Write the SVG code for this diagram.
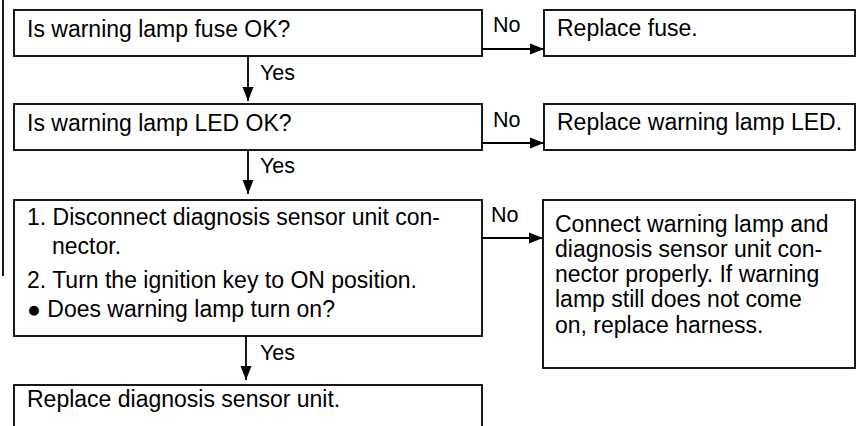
<svg xmlns="http://www.w3.org/2000/svg" width="857" height="426" viewBox="0 0 857 426">
<style>
.box{fill:#fff;stroke:#000;stroke-width:1.8}
.t{font-family:"Liberation Sans",Arial,sans-serif;font-size:23px;fill:#000}
.lbl{font-family:"Liberation Sans",Arial,sans-serif;font-size:21.5px;fill:#000}
.c{stroke:#000;stroke-width:1.8;fill:none}
</style>
<defs>
<marker id="ah" markerWidth="14" markerHeight="12" refX="14" refY="6" orient="auto" markerUnits="userSpaceOnUse">
<path d="M0,0.5 L14,6 L0,11.5 Z" fill="#000"/>
</marker>
</defs>
<rect width="857" height="426" fill="#fff"/>
<line x1="3" y1="0" x2="3" y2="276" stroke="#000" stroke-width="1.8"/>
<g id="n1"><rect class="box" x="14" y="10" width="468" height="46"/><text class="t" x="27" y="37">Is warning lamp fuse OK?</text></g>
<g id="n2"><rect class="box" x="544" y="10" width="311" height="46"/><text class="t" x="557" y="36">Replace fuse.</text></g>
<g id="n3"><rect class="box" x="14" y="104" width="468" height="46"/><text class="t" x="27" y="131">Is warning lamp LED OK?</text></g>
<g id="n4"><rect class="box" x="544" y="104" width="311" height="46"/><text class="t" x="557" y="130">Replace warning lamp LED.</text></g>
<g id="n5"><rect class="box" x="14" y="200" width="468" height="136"/>
<text class="t" x="27" y="225">1. Disconnect diagnosis sensor unit con-</text>
<text class="t" x="52" y="254">nector.</text>
<text class="t" x="27" y="288">2. Turn the ignition key to ON position.</text>
<text class="t" x="27" y="317">● Does warning lamp turn on?</text></g>
<g id="n6"><rect class="box" x="543" y="200" width="312" height="168"/>
<text class="t" x="555" y="232">Connect warning lamp and</text>
<text class="t" x="555" y="257">diagnosis sensor unit con-</text>
<text class="t" x="555" y="282">nector properly. If warning</text>
<text class="t" x="555" y="307">lamp still does not come</text>
<text class="t" x="555" y="333">on, replace harness.</text></g>
<g id="n7"><rect class="box" x="14" y="385" width="468" height="60"/><text class="t" x="27" y="407">Replace diagnosis sensor unit.</text></g>
<g id="connectors">
<line class="c" x1="482" y1="49" x2="544" y2="49" marker-end="url(#ah)"/>
<line class="c" x1="482" y1="143" x2="544" y2="143" marker-end="url(#ah)"/>
<line class="c" x1="482" y1="238" x2="543" y2="238" marker-end="url(#ah)"/>
<line class="c" x1="248" y1="56" x2="248" y2="101" marker-end="url(#ah)"/>
<line class="c" x1="248" y1="150" x2="248" y2="194" marker-end="url(#ah)"/>
<line class="c" x1="246" y1="336" x2="246" y2="380" marker-end="url(#ah)"/>
<text class="lbl" x="493" y="32">No</text>
<text class="lbl" x="493" y="127">No</text>
<text class="lbl" x="491" y="222">No</text>
<text class="lbl" x="260" y="80">Yes</text>
<text class="lbl" x="260" y="173">Yes</text>
<text class="lbl" x="260" y="360">Yes</text>
</g>
</svg>
